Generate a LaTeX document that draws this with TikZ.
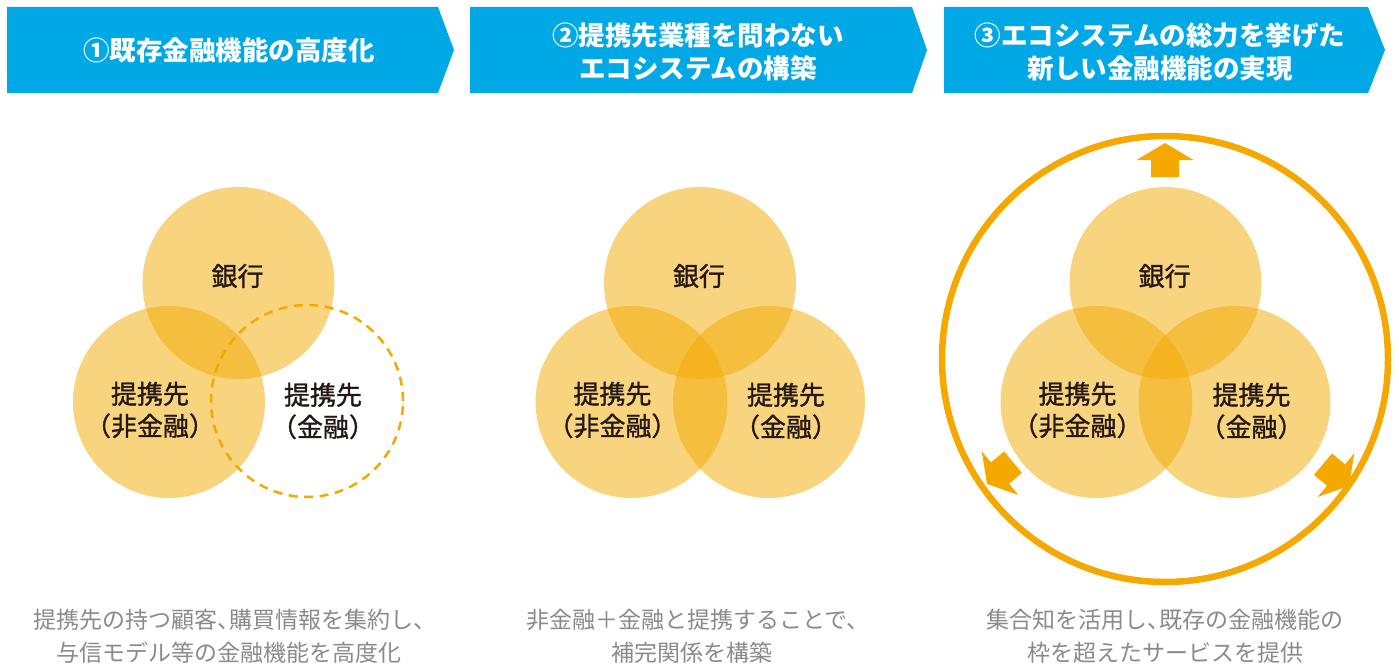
\documentclass[tikz,border=0pt]{standalone}
\usepackage{fontspec}
\setmainfont{Noto Sans CJK JP}
\newfontfamily\lblfont[FakeBold=1.2]{Noto Sans CJK JP}
\usetikzlibrary{calc}
\definecolor{hdr}{HTML}{00A8E6}
\definecolor{venn}{HTML}{F2A900}
\definecolor{ring}{HTML}{F5A800}
\definecolor{lbl}{HTML}{231815}
\definecolor{cap}{HTML}{8A8A8A}
\begin{document}
\begin{tikzpicture}[x=1pt,y=-1pt,
  venncirc/.style={circle, minimum size=192pt, inner sep=0pt, fill=venn, fill opacity=0.5, draw=none},
  dashcirc/.style={circle, minimum size=192pt, inner sep=0pt, draw=ring, line width=2.5pt, dash pattern=on 9pt off 6.5pt},
  hdrbox/.style={fill=hdr},
  hdrtext/.style={text=white, font=\fontsize{26.5}{33}\selectfont\bfseries, align=center, inner sep=0pt},
  lbltext/.style={text=lbl, font=\lblfont\fontsize{26}{32}\selectfont, align=center, inner sep=0pt},
  captext/.style={text=cap, font=\fontsize{23}{33}\selectfont, align=center, inner sep=0pt},
  bigarrow/.style={fill=ring},
  bigring/.style={circle, draw=ring, line width=6.5pt, minimum size=446pt, inner sep=0pt}
]
\useasboundingbox (0,0) rectangle (1399,666);

% headers
\fill[hdrbox] (7,7) -- (438,7) -- (454,50) -- (438,93) -- (7,93) -- cycle;
\fill[hdrbox] (470,7) -- (912,7) -- (927,50) -- (912,93) -- (470,93) -- cycle;
\fill[hdrbox] (944,7) -- (1368,7) -- (1385,50) -- (1368,93) -- (944,93) -- cycle;
\node[hdrtext] (h1) at (229,50) {①既存金融機能の高度化};
\node[hdrtext] (h2) at (698,51.5) {②提携先業種を問わない\\エコシステムの構築};
\node[hdrtext] (h3) at (1160,51.5) {③エコシステムの総力を挙げた\\新しい金融機能の実現};

% panel 1
\node[venncirc] (p1b) at (238.5,283) {};
\node[venncirc] (p1l) at (169,402) {};
\node[dashcirc] (p1r) at (307,401) {};
\node[lbltext] (t1b) at ($(p1b)+(-1,-7)$) {銀行};
\node[lbltext] (t1l) at ($(p1l)+(-19,8)$) {提携先\\（非金融）};
\node[lbltext] (t1r) at ($(p1r)+(16,10)$) {提携先\\（金融）};

% panel 2
\node[venncirc] (p2b) at (700,283) {};
\node[venncirc] (p2l) at (631.5,402) {};
\node[venncirc] (p2r) at (769,402) {};
\node[lbltext] (t2b) at ($(p2b)+(-1,-7)$) {銀行};
\node[lbltext] (t2l) at ($(p2l)+(-19,8)$) {提携先\\（非金融）};
\node[lbltext] (t2r) at ($(p2r)+(17,9)$) {提携先\\（金融）};

% panel 3
\node[bigring] (ring3) at (1165,359) {};
\node[venncirc] (p3b) at (1165.5,283) {};
\node[venncirc] (p3l) at (1096.5,402) {};
\node[venncirc] (p3r) at (1234.5,402) {};
\node[lbltext] (t3b) at ($(p3b)+(-1,-7)$) {銀行};
\node[lbltext] (t3l) at ($(p3l)+(-19,8)$) {提携先\\（非金融）};
\node[lbltext] (t3r) at ($(p3r)+(17,9)$) {提携先\\（金融）};
\foreach \px/\py/\ang in {1165/143/90, 987/484/220, 1349/486/-40}{
  \fill[bigarrow, shift={(\px,\py)}, rotate=\ang]
    (0,0) -- (-17,28.5) -- (-17,14) -- (-34,14) -- (-34,-14) -- (-17,-14) -- (-17,-28.5) -- cycle;
}

% captions
\node[captext] (c1) at (229,636.5) {提携先の持つ顧客、\kern-.5em 購買情報を集約し、\kern-.5em\\与信モデル等の金融機能を高度化};
\node[captext] (c2) at (692,636.5) {非金融＋金融と提携することで、\kern-.5em\\補完関係を構築};
\node[captext] (c3) at (1165,636.5) {集合知を活用し、\kern-.5em 既存の金融機能の\\枠を超えたサービスを提供};
\end{tikzpicture}
\end{document}
